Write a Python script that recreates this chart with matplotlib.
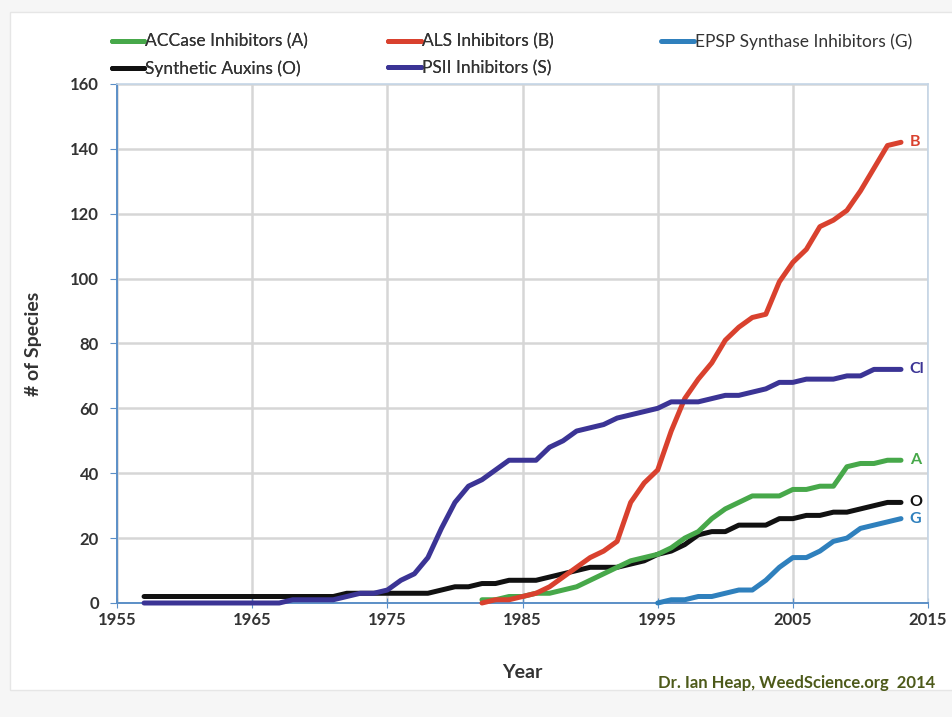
import matplotlib
matplotlib.use("Agg")
import matplotlib.pyplot as plt
from matplotlib.patches import Rectangle

plt.rcParams['font.family'] = ['Lato', 'DejaVu Sans']

# cumulative number of resistant species per site-of-action group
years_A = list(range(1982, 2014))
accase = [1, 1, 2, 2, 3, 3, 4, 5, 7, 9, 11, 13, 14, 15, 17, 20, 22, 26, 29, 31,
          33, 33, 33, 35, 35, 36, 36, 42, 43, 43, 44, 44]

years_B = list(range(1982, 2014))
als = [0, 1, 1, 2, 3, 5, 8, 11, 14, 16, 19, 31, 37, 41, 53, 63, 69, 74, 81, 85,
       88, 89, 99, 105, 109, 116, 118, 121, 127, 134, 141, 142]

years_G = list(range(1995, 2014))
epsp = [0, 1, 1, 2, 2, 3, 4, 4, 7, 11, 14, 14, 16, 19, 20, 23, 24, 25, 26]

years_O = list(range(1957, 2014))
auxins = [2] * 15 + [3, 3, 3, 3, 3, 3, 3, 4, 5, 5, 6, 6, 7, 7, 7, 8, 9, 10, 11,
                     11, 11, 12, 13, 15, 16, 18, 21, 22, 22, 24, 24, 24, 26, 26,
                     27, 27, 28, 28, 29, 30, 31, 31]

years_S = list(range(1957, 2014))
psii = [0] * 11 + [1, 1, 1, 1, 2, 3, 3, 4, 7, 9, 14, 23, 31, 36, 38, 41, 44, 44,
                   44, 48, 50, 53, 54, 55, 57, 58, 59, 60, 62, 62, 62, 63, 64,
                   64, 65, 66, 68, 68, 69, 69, 69, 70, 70, 72, 72, 72]

labels = ["ACCase Inhibitors (A)", "Synthetic Auxins (O)", "ALS Inhibitors (B)",
          "PSII Inhibitors (S)", "EPSP Synthase Inhibitors (G)"]
end_tags = ["A", "O", "B", "Cl", "G"]
colors = ["#47a84a", "#111111", "#d9412e", "#3b3495", "#2f80bd"]

fig = plt.figure(figsize=(9.53, 7.17), dpi=100, facecolor="#f6f6f6")
fig.patches.append(Rectangle((0.011, 0.038), 0.989, 0.945, transform=fig.transFigure,
                             facecolor="white", edgecolor="#e6e6e6", lw=1, zorder=-5))
ax = fig.add_axes([0.1228, 0.159, 0.851, 0.724])
ax.set_facecolor("white")

series = [(years_A, accase), (years_O, auxins), (years_B, als),
          (years_S, psii), (years_G, epsp)]
draw_order = [1, 0, 2, 4, 3]
lines = {}
for i in draw_order:
    x, y = series[i]
    ln, = ax.plot(x, y, color=colors[i], lw=3.6, solid_capstyle="round",
                  solid_joinstyle="round", clip_on=False, zorder=3)
    lines[i] = ln
    ax.text(x[-1] + 0.65, y[-1], end_tags[i], color=colors[i], fontsize=11.5,
            fontweight="bold", va="center", ha="left")

ax.set_xlim(1955, 2015)
ax.set_ylim(0, 160)
ax.set_xticks(range(1955, 2016, 10))
ax.set_yticks(range(0, 161, 20))
ax.grid(True, color="#d6d6d6", lw=1.8)
ax.set_axisbelow(True)
for s in ["top", "right"]:
    ax.spines[s].set_color("#c5d5e6")
    ax.spines[s].set_linewidth(1.2)
for s in ["left", "bottom"]:
    ax.spines[s].set_color("#5b8fc7")
    ax.spines[s].set_linewidth(1.4)
ax.tick_params(axis="y", direction="out", length=5, color="#5b8fc7",
               labelsize=12, labelcolor="#333333", pad=8)
ax.tick_params(axis="x", direction="inout", length=7, color="#5b8fc7",
               labelsize=12, labelcolor="#333333", pad=3)
for t in ax.get_xticklabels() + ax.get_yticklabels():
    t.set_fontweight("bold")

ax.set_xlabel("Year", fontsize=14, fontweight="bold", color="#333333", labelpad=26)
ax.set_ylabel("# of Species", fontsize=14, fontweight="bold", color="#333333", labelpad=20)

leg_style = dict(loc="upper left", frameon=False, fontsize=12.5, handlelength=1.9,
                 handletextpad=0.05, labelspacing=0.6, labelcolor="#333333",
                 borderaxespad=0, borderpad=0)
leg1 = fig.legend([lines[i] for i in range(4)], labels[:4], ncol=2,
                  bbox_to_anchor=(0.117, 0.953), columnspacing=4.6, **leg_style)
fig.legend([lines[4]], labels[4:], bbox_to_anchor=(0.694, 0.953), **leg_style)
fig.add_artist(leg1)

fig.text(0.981, 0.048, "Dr. Ian Heap, WeedScience.org  2014", ha="right", va="center",
         fontsize=12, fontweight="bold", color="#4d5a1a")

fig.savefig("out.png", dpi=100, facecolor=fig.get_facecolor())
